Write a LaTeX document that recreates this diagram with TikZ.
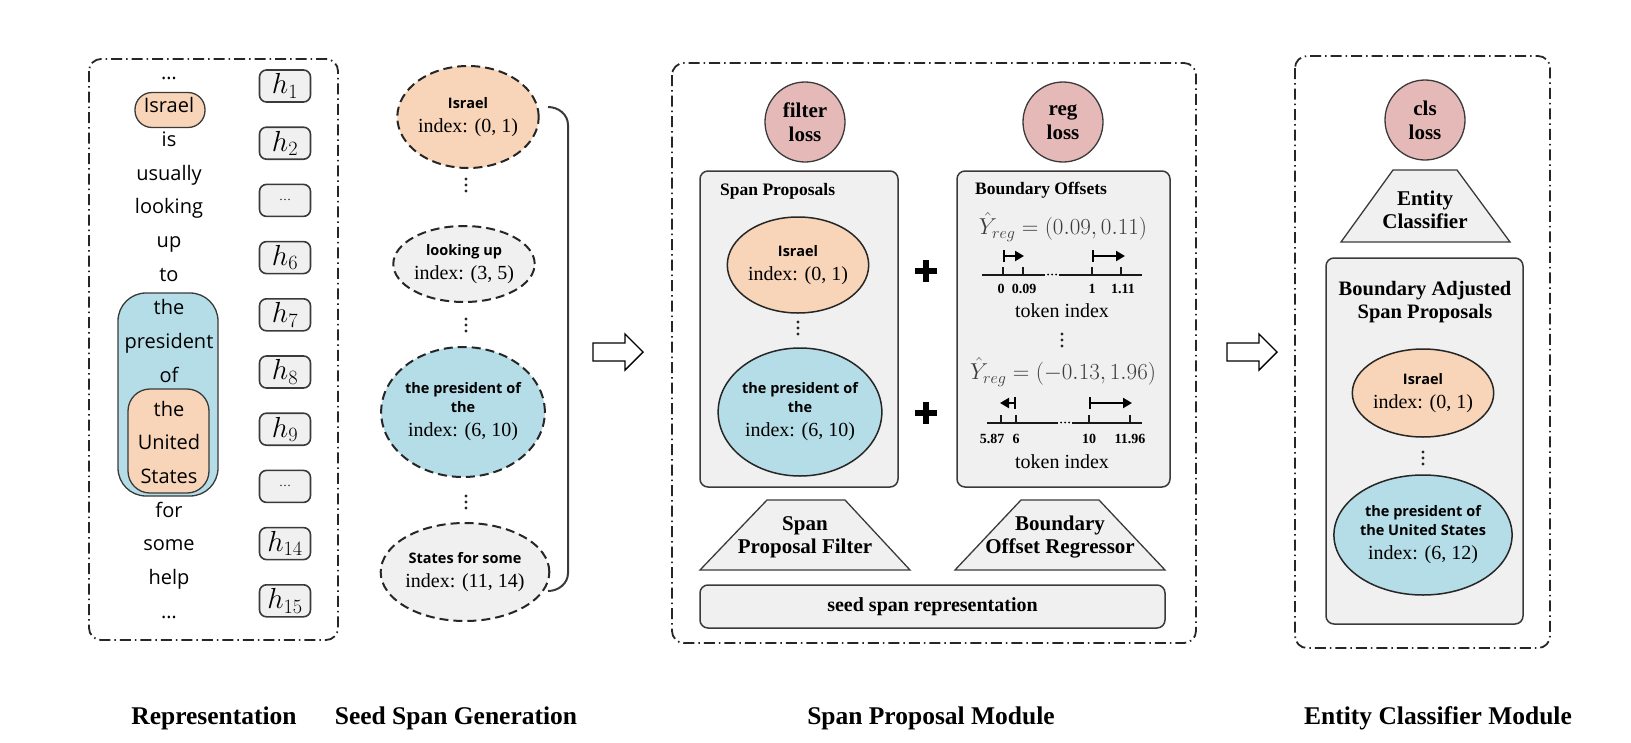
\RequirePackage{fix-cm}
\documentclass[tikz,border=0pt]{standalone}
\usepackage{fontspec}
\setmainfont{Liberation Serif}
\setsansfont{Open Sans}
\usetikzlibrary{shapes.geometric,arrows.meta}
\definecolor{peach}{HTML}{F8D5B8}
\definecolor{skyb}{HTML}{B5DDE7}
\definecolor{pgray}{HTML}{F0F0F0}
\definecolor{lossred}{HTML}{E5B9B8}
\definecolor{edge}{HTML}{3A3A3A}
\definecolor{formulagray}{HTML}{3C3C3C}
\newcommand{\spw}[1]{{\sffamily\bfseries\fontsize{14.5}{17}\selectfont #1}}
\tikzset{
 word/.style={font=\sffamily\fontsize{20}{24}\selectfont, inner sep=0pt, text height=14pt, text depth=4pt},
 hbox/.style={draw=edge, fill=pgray, rounded corners=7pt, line width=1.6pt, minimum width=51pt, minimum height=32pt, inner sep=0pt, font=\fontsize{29}{32}\selectfont},
 module/.style={draw=black!85, line width=1.8pt, dash pattern=on 11pt off 4pt on 1.5pt off 4pt, rounded corners=12pt},
 seed/.style={ellipse, draw=black!85, line width=2pt, dash pattern=on 9pt off 5pt, inner sep=0pt, align=center, font=\fontsize{20}{24}\selectfont},
 prop/.style={ellipse, draw=black!85, line width=1.5pt, inner sep=0pt, align=center, font=\fontsize{20}{24}\selectfont},
 panel/.style={draw=edge, fill=pgray, rounded corners=8pt, line width=1.5pt, inner sep=0pt},
 loss/.style={circle, draw=edge, fill=lossred, line width=1.3pt, minimum size=80pt, inner sep=0pt, align=center, font=\bfseries\fontsize{21}{24}\selectfont},
 trap/.style={draw=edge, fill=pgray, line width=1.3pt},
 traptext/.style={align=center, font=\bfseries\fontsize{21}{23}\selectfont, inner sep=0pt},
 ptitle/.style={font=\bfseries\fontsize{17.5}{21}\selectfont, inner sep=0pt},
 caption/.style={font=\bfseries\fontsize{25.5}{28}\selectfont, inner sep=0pt},
 tok/.style={font=\fontsize{20}{22}\selectfont, inner sep=0pt},
 ticklab/.style={font=\bfseries\fontsize{14}{16}\selectfont, inner sep=0pt},
 formula/.style={text=formulagray, font=\fontsize{23}{26}\selectfont, inner sep=0pt},
 blk/.style={draw=black, line width=1.4pt, fill=white, line join=miter},
 axisline/.style={line width=2pt, draw=black!90},
 offarr/.style={line width=2pt, {Bar[width=12pt]}-{Triangle[length=9pt,width=10pt]}},
 brace/.style={line width=2pt, draw=edge},
}
\begin{document}
\begin{tikzpicture}[x=1pt,y=-1pt]
\useasboundingbox (0,0) rectangle (1631,742);

%% ---------- Representation ----------
\draw[module] (89,59) rectangle (338,640);
\node[draw=edge, fill=skyb, line width=1.3pt, rounded corners=28pt, minimum width=100pt, minimum height=203pt, inner sep=0pt] (bluebox) at (168,394.5) {};
\node[draw=edge, fill=peach, line width=1.3pt, rounded corners=22pt, minimum width=81pt, minimum height=104pt, inner sep=0pt] (usbox) at (168.5,441) {};
\node[draw=edge, fill=peach, line width=1.3pt, rounded corners=17pt, minimum width=70pt, minimum height=35pt, inner sep=0pt] (isrbox) at (170,110) {};
\foreach \t [count=\i from 0] in {\ldots,Israel,is,usually,looking,up,to,the,president,of,the,United,States,for,some,help,\ldots}
  \node[word] (w\i) at (169,{74+33.7*\i}) {\t};
\foreach \t [count=\i from 0] in {$h_{1}$,$h_{2}$,{\fontsize{12}{14}\selectfont\ldots},$h_{6}$,$h_{7}$,$h_{8}$,$h_{9}$,{\fontsize{12}{14}\selectfont\ldots},$h_{14}$,$h_{15}$}
  \node[hbox] (h\i) at (285,{86+57.2*\i}) {\t};

%% ---------- Seed spans ----------
\node[seed, fill=peach, minimum width=130pt, minimum height=102pt] (s1) at (468,117) {\spw{Israel}\\index: (0, 1)};
\node[seed, fill=pgray, minimum width=128pt, minimum height=76pt] (s2) at (464,264) {\spw{looking up}\\index: (3, 5)};
\node[seed, fill=skyb, minimum width=156pt, minimum height=130pt] (s3) at (463,412) {\spw{the president of}\\[-5pt]\spw{the}\\index: (6, 10)};
\node[seed, fill=pgray, minimum width=144pt, minimum height=98pt] (s4) at (465,572) {\spw{States for some}\\index: (11, 14)};
\foreach \yc in {185,325,502}
  \foreach \d in {-6,0,6} \fill[black!85] (466,\yc+\d) circle (1.6pt);
\coordinate (bt) at (548,107);
\coordinate (bb) at (548,591);
\draw[brace] (bt) to[out=0,in=90] (568,125) -- (568,573) to[out=-90,in=0] (bb);

%% block arrow 1
\draw[blk] (593,343) -- (625,343) -- (625,334) -- (643,352) -- (625,370) -- (625,361) -- (593,361) -- cycle;

%% ---------- Span Proposal Module ----------
\draw[module] (672,63) rectangle (1196,643);
\node[loss] (floss) at (805,122) {filter\\loss};
\node[loss] (rloss) at (1063,122) {reg\\loss};

\node[panel, minimum width=198pt, minimum height=316pt] (spanel) at (799,329) {};
\node[ptitle, anchor=west] (sptitle) at (720,191) {Span Proposals};
\node[prop, fill=peach, minimum width=128pt, minimum height=96pt] (p1) at (798,265) {\spw{Israel}\\index: (0, 1)};
\foreach \d in {-6,0,6} \fill[black!85] (798,328+\d) circle (1.6pt);
\node[prop, fill=skyb, minimum width=158pt, minimum height=128pt] (p2) at (800,412) {\spw{the president of}\\[-5pt]\spw{the}\\index: (6, 10)};

\foreach \yy in {271,413} {
  \draw[line width=6pt] (915,\yy) -- (937,\yy);
  \draw[line width=6pt] (926,\yy-11) -- (926,\yy+11);
}

\node[panel, minimum width=213pt, minimum height=316pt] (bpanel) at (1063.5,329) {};
\node[ptitle, anchor=west] (bptitle) at (975,190) {Boundary Offsets};
\node[formula] (f1) at (1063,227) {$\hat{Y}_{reg} = (0.09, 0.11)$};
\draw[axisline] (982,275) -- (1045,275);
\foreach \x in {1048,1052,1056} \fill (\x,274.5) circle (1pt);
\draw[axisline] (1059,275) -- (1142,275);
\foreach \x in {1003,1023,1092,1121} \draw[axisline] (\x,275) -- (\x,267);
\draw[offarr] (1003,256) -- (1024,256);
\draw[offarr] (1092,256) -- (1125,256);
\node[ticklab] (l1) at (1001,289) {0};
\node[ticklab] (l2) at (1024,289) {0.09};
\node[ticklab] (l3) at (1092,289) {1};
\node[ticklab] (l4) at (1123,289) {1.11};
\node[tok] (ti1) at (1062,311) {token index};
\foreach \d in {-6,0,6} \fill[black!85] (1062,340+\d) circle (1.6pt);
\node[formula] (f2) at (1063,372) {$\hat{Y}_{reg} = (-0.13, 1.96)$};
\draw[offarr] (1016,403) -- (1000,403);
\draw[offarr] (1089,403) -- (1132,403);
\draw[axisline] (987,423) -- (1058,423);
\foreach \x in {1061,1065,1069} \fill (\x,422.5) circle (1pt);
\draw[axisline] (1072,423) -- (1142,423);
\foreach \x in {1001,1016,1089,1130} \draw[axisline] (\x,423) -- (\x,415);
\node[ticklab] (m1) at (992,439) {5.87};
\node[ticklab] (m2) at (1016,439) {6};
\node[ticklab] (m3) at (1089,439) {10};
\node[ticklab] (m4) at (1130,439) {11.96};
\node[tok] (ti2) at (1062,462) {token index};

\draw[trap] (700,570) -- (767,500) -- (845,500) -- (910,570) -- cycle;
\node[traptext] (filt) at (805,537) {Span\\Proposal Filter};
\draw[trap] (955,570) -- (1021,500) -- (1099,500) -- (1165,570) -- cycle;
\node[traptext] (regr) at (1060,537) {Boundary\\Offset Regressor};

\node[panel, minimum width=465pt, minimum height=43pt, font=\bfseries\fontsize{20}{22}\selectfont] (seedrep) at (932.5,606.5) {seed span representation};

%% block arrow 2
\draw[blk] (1227,343) -- (1259,343) -- (1259,334) -- (1277,352) -- (1259,370) -- (1259,361) -- (1227,361) -- cycle;

%% ---------- Entity Classifier Module ----------
\draw[module] (1295,56) rectangle (1550,648);
\node[loss] (closs) at (1425,120) {cls\\loss};
\draw[trap] (1341,242) -- (1393,170) -- (1457,170) -- (1510,242) -- cycle;
\node[traptext] (ecls) at (1425,210) {Entity\\Classifier};
\node[panel, minimum width=197pt, minimum height=366pt] (apanel) at (1424.5,441) {};
\node[align=center, font=\bfseries\fontsize{20.5}{23}\selectfont, inner sep=0pt] (atitle) at (1425,302) {Boundary Adjusted\\Span Proposals};
\node[prop, fill=peach, minimum width=126pt, minimum height=88pt] (a1) at (1423,393) {\spw{Israel}\\index: (0, 1)};
\foreach \d in {-6,0,6} \fill[black!85] (1423,458+\d) circle (1.6pt);
\node[prop, fill=skyb, minimum width=154pt, minimum height=120pt] (a2) at (1423,535) {\spw{the president of}\\[-5pt]\spw{the United States}\\index: (6, 12)};

%% ---------- captions ----------
\node[caption] (c1) at (214,718) {Representation};
\node[caption] (c2) at (456,718) {Seed Span Generation};
\node[caption] (c3) at (931,718) {Span Proposal Module};
\node[caption] (c4) at (1438,718) {Entity Classifier Module};
\end{tikzpicture}
\end{document}
